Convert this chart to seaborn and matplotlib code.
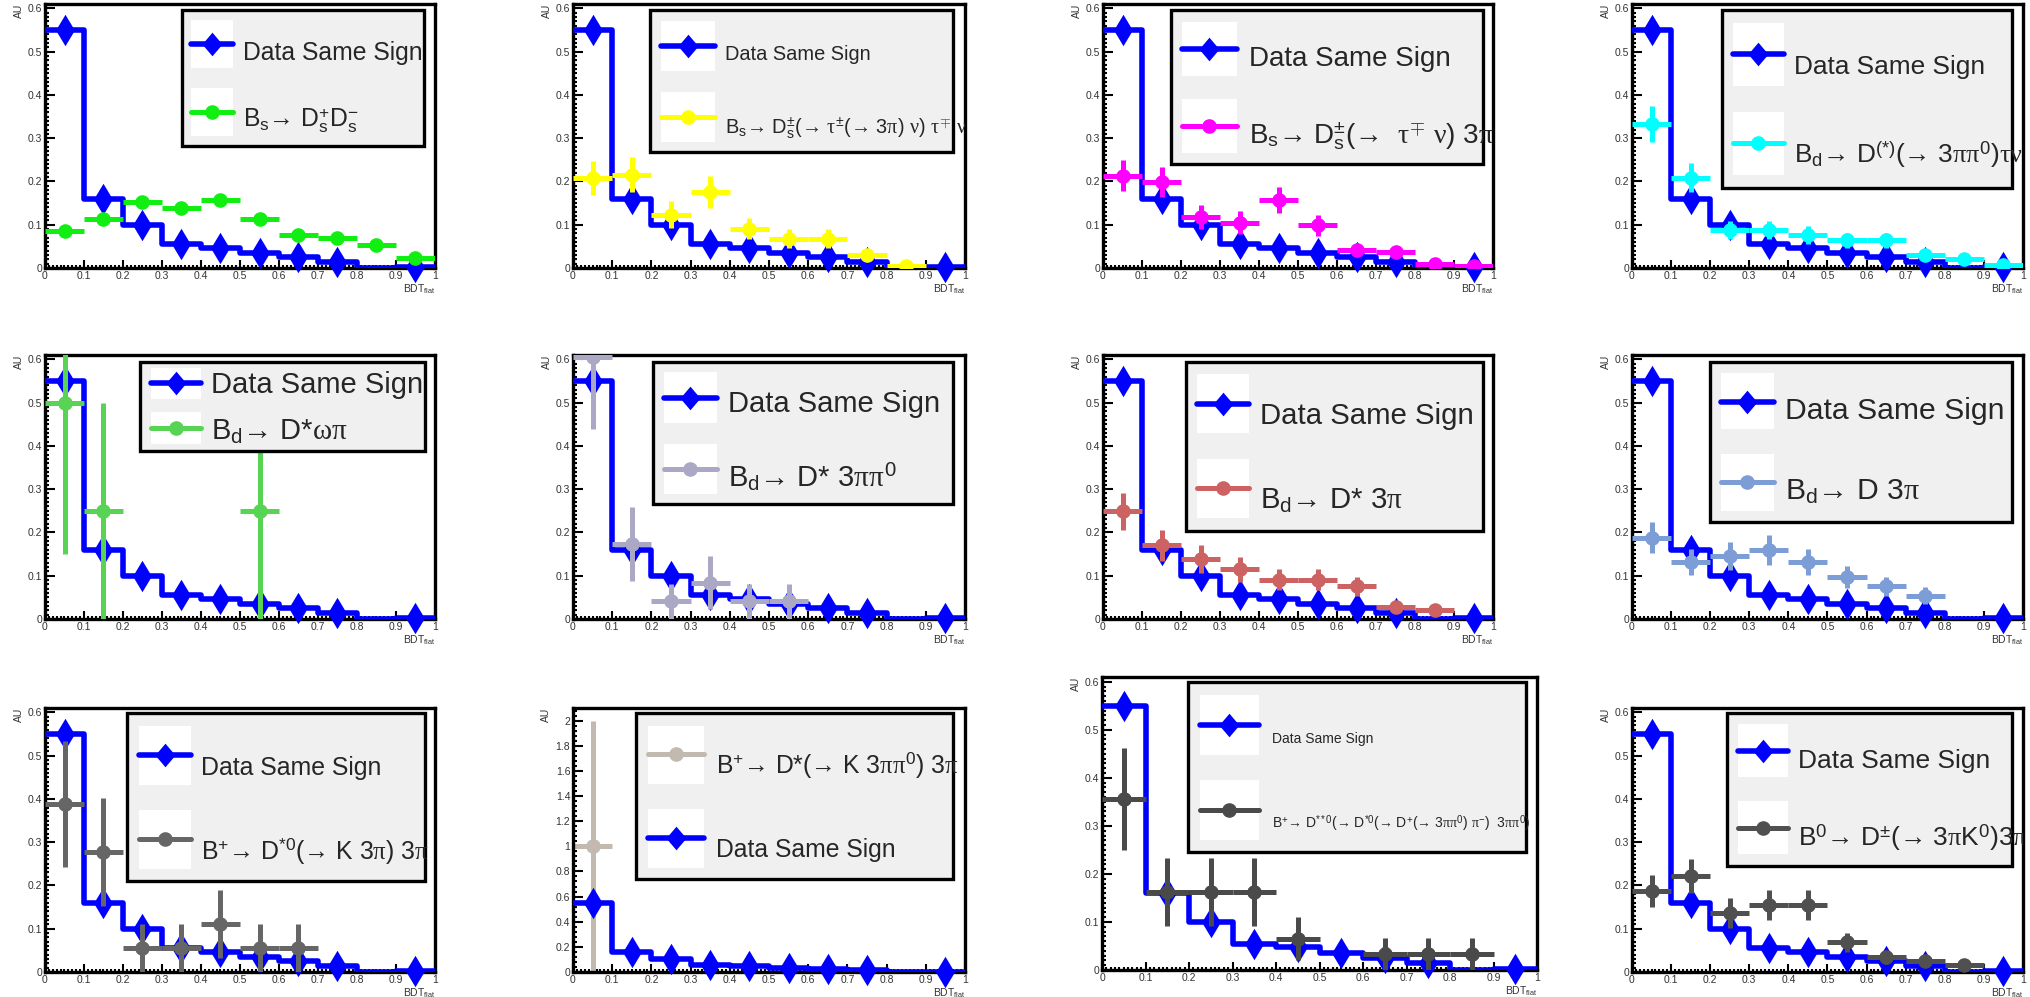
import numpy as np
import pandas as pd
import matplotlib
matplotlib.use("Agg")
import matplotlib.pyplot as plt
import seaborn as sns
from matplotlib.patches import Rectangle
from matplotlib.lines import Line2D
from matplotlib.ticker import MultipleLocator, FuncFormatter

W, H = 2031, 997

# ---- data -------------------------------------------------------------
bin_edges = [0.0, 0.1, 0.2, 0.3, 0.4, 0.5, 0.6, 0.7, 0.8, 0.9, 1.0]
bin_centres = np.array([0.05, 0.15, 0.25, 0.35, 0.45, 0.55, 0.65, 0.75, 0.85, 0.95])

data_same_sign = [0.55, 0.16, 0.10, 0.055, 0.047, 0.035, 0.025, 0.015, 0.0, 0.002]

bs_dsds = [0.085, 0.113, 0.153, 0.138, 0.157, 0.113, 0.077, 0.070, 0.054, 0.022]
bs_dsds_err = [0.004, 0.005, 0.005, 0.005, 0.005, 0.005, 0.004, 0.004, 0.003, 0.003]

bs_ds_tautau = [0.208, 0.216, 0.123, 0.176, 0.091, 0.068, 0.068, 0.029, 0.005, 0.0]
bs_ds_tautau_err = [0.039, 0.040, 0.031, 0.037, 0.025, 0.022, 0.022, 0.012, 0.005, 0.0]

bs_ds_tau_3pi = [0.213, 0.199, 0.118, 0.105, 0.157, 0.099, 0.042, 0.037, 0.010, 0.004]
bs_ds_tau_3pi_err = [0.036, 0.035, 0.028, 0.026, 0.030, 0.024, 0.012, 0.010, 0.006, 0.004]

bd_dx_3pipi0_taunu = [0.332, 0.209, 0.087, 0.087, 0.076, 0.064, 0.064, 0.031, 0.021, 0.008]
bd_dx_3pipi0_taunu_err = [0.042, 0.034, 0.021, 0.021, 0.020, 0.018, 0.018, 0.010, 0.008, 0.006]

bd_dst_omega_pi = [0.50, 0.25, 0, 0, 0, 0.25, 0, 0, 0, 0]
bd_dst_omega_pi_err = [0.35, 0.25, 0, 0, 0, 0.25, 0, 0, 0, 0]

bd_dst_3pipi0 = [0.605, 0.173, 0.041, 0.084, 0.041, 0.041, 0, 0, 0, 0]
bd_dst_3pipi0_err = [0.165, 0.086, 0.041, 0.061, 0.041, 0.041, 0, 0, 0, 0]

bd_dst_3pi = [0.249, 0.170, 0.138, 0.115, 0.091, 0.091, 0.076, 0.028, 0.020, 0]
bd_dst_3pi_err = [0.043, 0.035, 0.032, 0.029, 0.025, 0.025, 0.022, 0.010, 0.008, 0]

bd_d_3pi = [0.188, 0.132, 0.146, 0.159, 0.132, 0.097, 0.076, 0.054, 0, 0]
bd_d_3pi_err = [0.036, 0.030, 0.032, 0.034, 0.030, 0.025, 0.022, 0.019, 0, 0]

bp_dst0_k3pi = [0.388, 0.277, 0.055, 0.055, 0.111, 0.055, 0.055, 0, 0, 0]
bp_dst0_k3pi_err = [0.145, 0.124, 0.055, 0.055, 0.078, 0.055, 0.055, 0, 0, 0]

bp_dst_k3pipi0 = [1.0, 0, 0, 0, 0, 0, 0, 0, 0, 0]
bp_dst_k3pipi0_err = [1.0, 0, 0, 0, 0, 0, 0, 0, 0, 0]

bp_dstst0 = [0.356, 0.162, 0.162, 0.162, 0.065, 0, 0.033, 0.033, 0.033, 0]
bp_dstst0_err = [0.107, 0.071, 0.071, 0.071, 0.045, 0, 0.033, 0.033, 0.033, 0]

b0_dpm_3pik0 = [0.188, 0.222, 0.136, 0.154, 0.154, 0.069, 0.034, 0.026, 0.017, 0]
b0_dpm_3pik0_err = [0.037, 0.040, 0.034, 0.035, 0.035, 0.022, 0.015, 0.013, 0.010, 0]

labels = [
    r"B$_\mathrm{s}$→ D$_\mathrm{s}^{+}$D$_\mathrm{s}^{-}$",
    r"B$_\mathrm{s}$→ D$_\mathrm{s}^{\pm}$(→ $\tau^{\pm}$(→ 3$\pi$) $\nu$) $\tau^{\mp}$ $\nu$",
    r"B$_\mathrm{s}$→ D$_\mathrm{s}^{\pm}$(→  $\tau^{\mp}$ $\nu$) 3$\pi$",
    r"B$_\mathrm{d}$→ D$^{(*)}$(→ 3$\pi\pi^{0}$)$\tau\nu$",
    r"B$_\mathrm{d}$→ D*$\omega\pi$",
    r"B$_\mathrm{d}$→ D* 3$\pi\pi^{0}$",
    r"B$_\mathrm{d}$→ D* 3$\pi$",
    r"B$_\mathrm{d}$→ D 3$\pi$",
    r"B$^{+}$→ D$^{*0}$(→ K 3$\pi$) 3$\pi$",
    r"B$^{+}$→ D*(→ K 3$\pi\pi^{0}$) 3$\pi$",
    r"B$^{+}$→ D$^{**0}$(→ D$^{*0}$(→ D$^{+}$(→ 3$\pi\pi^{0}$) $\pi^{-}$)  3$\pi\pi^{0}$)",
    r"B$^{0}$→ D$^{\pm}$(→ 3$\pi$K$^{0}$)3$\pi$",
]

components = [
    (bs_dsds, bs_dsds_err, "#11ee11"),
    (bs_ds_tautau, bs_ds_tautau_err, "#ffff00"),
    (bs_ds_tau_3pi, bs_ds_tau_3pi_err, "#ff00ff"),
    (bd_dx_3pipi0_taunu, bd_dx_3pipi0_taunu_err, "#00ffff"),
    (bd_dst_omega_pi, bd_dst_omega_pi_err, "#59d354"),
    (bd_dst_3pipi0, bd_dst_3pipi0_err, "#aaa8c4"),
    (bd_dst_3pi, bd_dst_3pi_err, "#cc6262"),
    (bd_d_3pi, bd_d_3pi_err, "#7d9dd6"),
    (bp_dst0_k3pi, bp_dst0_k3pi_err, "#666666"),
    (bp_dst_k3pipi0, bp_dst_k3pipi0_err, "#c2b9af"),
    (bp_dstst0, bp_dstst0_err, "#4a4a4a"),
    (b0_dpm_3pik0, b0_dpm_3pik0_err, "#505050"),
]

# ---- layout (pixels of the 2031x997 canvas) ---------------------------
cols = [(45, 435), (573, 965), (1103, 1493), (1632, 2023)]
rows = [(4, 268), (355, 619), (708, 972)]
axes_px = [(c[0], r[0], c[1], r[1]) for r in rows for c in cols]
axes_px[10] = (1102, 677, 1537, 970)

# box, square x, square rows, handle y, text x, text y (cap centre), font size
legends = [
    dict(box=(182, 10, 424, 146), sq=(191, 233), sqy=[(20, 68), (88, 136)], hy=[44, 112], tx=243, ty=[51, 118], fs=17.8),
    dict(box=(650, 10, 953, 152), sq=(661, 715), sqy=[(21, 71), (92, 142)], hy=[46, 117], tx=725, ty=[53, 126], fs=14.4),
    dict(box=(1171, 10, 1483, 164), sq=(1182, 1237), sqy=[(22, 76), (99, 153)], hy=[49, 126], tx=1249, ty=[56, 134], fs=20),
    dict(box=(1722, 10, 2012, 188), sq=(1733, 1784), sqy=[(23, 86), (112, 175)], hy=[54, 143], tx=1794, ty=[65, 154], fs=18.9),
    dict(box=(140, 362, 425, 451), sq=(151, 201), sqy=[(368, 399), (412, 444)], hy=[383, 428], tx=211, ty=[383, 429], fs=21),
    dict(box=(653, 362, 953, 504), sq=(664, 717), sqy=[(372, 423), (444, 494)], hy=[398, 469], tx=728, ty=[402, 476], fs=21),
    dict(box=(1186, 362, 1483, 531), sq=(1197, 1249), sqy=[(374, 433), (459, 518)], hy=[404, 488], tx=1260, ty=[413, 498], fs=21.2),
    dict(box=(1710, 362, 2012, 522), sq=(1721, 1774), sqy=[(373, 429), (454, 511)], hy=[402, 482], tx=1785, ty=[408, 489], fs=21.7),
    dict(box=(127, 713, 425, 881), sq=(139, 191), sqy=[(726, 785), (810, 869)], hy=[755, 839], tx=201, ty=[766, 850], fs=17.9),
    dict(box=(636, 713, 953, 879), sq=(648, 704), sqy=[(726, 784), (809, 868)], hy=[754, 838], tx=716, ty=[764, 848], fs=17.8),
    dict(box=(1188, 682, 1526, 852), sq=(1200, 1259), sqy=[(695, 755), (780, 840)], hy=[725, 810], tx=1272, ty=[738, 823], fs=10),
    dict(box=(1727, 713, 2012, 866), sq=(1738, 1788), sqy=[(724, 777), (801, 854)], hy=[751, 828], tx=1798, ty=[759, 836], fs=19),
]

LEGEND_DIAMOND = [(0, 1), (0.85, 0), (0, -1), (-0.85, 0), (0, 1)]

sns.set_style("white")
plt.rcParams["font.family"] = ["Liberation Sans", "DejaVu Sans"]
plt.rcParams["mathtext.fontset"] = "custom"
plt.rcParams["mathtext.rm"] = "Liberation Sans"
plt.rcParams["mathtext.it"] = "Liberation Serif"
plt.rcParams["mathtext.bf"] = "Liberation Sans:bold"


def fx(x):
    return x / W


def fy(y):
    return 1 - y / H


def draw_legend(fig, ax, lay, entries):
    x0, y0, x1, y1 = lay["box"]
    ax.add_patch(Rectangle((fx(x0), fy(y1)), (x1 - x0) / W, (y1 - y0) / H,
                           transform=fig.transFigure, facecolor="#f0f0f0",
                           edgecolor="black", lw=2.4, zorder=10, clip_on=False))
    s0, s1 = lay["sq"]
    for (top, bot), hy, ty, (kind, colour, text) in zip(lay["sqy"], lay["hy"], lay["ty"], entries):
        ax.add_patch(Rectangle((fx(s0), fy(bot)), (s1 - s0) / W, (bot - top) / H,
                               transform=fig.transFigure, facecolor="white",
                               edgecolor="none", zorder=11, clip_on=False))
        if kind == "data":
            style = dict(color="blue", lw=4, marker=LEGEND_DIAMOND, ms=17,
                         markeredgewidth=0)
        else:
            style = dict(color=colour, lw=3.6, marker="o", ms=9.5)
        ax.add_artist(Line2D([fx(s0), fx((s0 + s1) / 2), fx(s1)], [fy(hy)] * 3,
                             transform=fig.transFigure, markevery=[1], zorder=12,
                             clip_on=False, **style))
        base = ty + 0.358 * lay["fs"] * 100 / 72
        ax.text(fx(lay["tx"]), fy(base), text, transform=fig.transFigure,
                fontsize=lay["fs"], ha="left", va="baseline", zorder=13, clip_on=True)


def draw_panel(fig, idx):
    L, T, R, B = axes_px[idx]
    ax = fig.add_axes([fx(L), fy(B), (R - L) / W, (B - T) / H])
    vals, errs, colour = components[idx]
    vals = np.array(vals, dtype=float)
    errs = np.array(errs, dtype=float)
    df = pd.DataFrame({"bdt": bin_centres, "au": data_same_sign})
    data_first = idx != 9
    z_data = 3 if data_first else 6
    z_comp = 5 if data_first else 2

    sns.histplot(data=df, x="bdt", weights="au", bins=bin_edges, element="step",
                 fill=False, color="blue", linewidth=4, ax=ax, zorder=z_data)
    shown = df[df["au"] > 0]
    sns.scatterplot(data=shown, x="bdt", y="au", marker="d", s=16 ** 2,
                    color="blue", linewidth=0, ax=ax, zorder=z_data + 0.5, clip_on=False)

    m = vals > 0
    ax.errorbar(bin_centres[m], vals[m], xerr=0.05, yerr=errs[m], fmt="o",
                color=colour, ms=9.5, elinewidth=3.6, capsize=0, zorder=z_comp)

    ymax = 2.1 if idx == 9 else 0.61
    ax.set_xlim(0, 1)
    ax.set_ylim(0, ymax)
    ax.xaxis.set_major_locator(MultipleLocator(0.1))
    ax.xaxis.set_minor_locator(MultipleLocator(0.01))
    if idx == 9:
        ax.yaxis.set_major_locator(MultipleLocator(0.2))
        ax.yaxis.set_minor_locator(MultipleLocator(0.04))
    else:
        ax.yaxis.set_major_locator(MultipleLocator(0.1))
        ax.yaxis.set_minor_locator(MultipleLocator(0.01))
    fmt = FuncFormatter(lambda v, p: f"{v:.6g}")
    ax.xaxis.set_major_formatter(fmt)
    ax.yaxis.set_major_formatter(fmt)
    ax.tick_params(which="both", direction="in", top=False, right=False,
                   bottom=True, left=True, color="black")
    ax.tick_params(axis="y", which="major", length=7.5, width=1.5)
    ax.tick_params(axis="y", which="minor", length=3.2, width=1.5)
    ax.tick_params(axis="x", which="major", length=5.8, width=1.5)
    ax.tick_params(axis="x", which="minor", length=2.2, width=1.5)
    ax.tick_params(which="major", labelsize=7.5, labelcolor="#333333", pad=2)
    for sp in ax.spines.values():
        sp.set_linewidth(2.4)
        sp.set_color("black")
    ax.set_ylabel("AU", fontsize=7.5, loc="top", labelpad=3, color="#333333")
    ax.set_xlabel(r"BDT$_\mathrm{flat}$", fontsize=7.5, loc="right", labelpad=1,
                  color="#333333")

    comp_entry = ("comp", colour, labels[idx])
    data_entry = ("data", "blue", "Data Same Sign")
    entries = [data_entry, comp_entry] if data_first else [comp_entry, data_entry]
    draw_legend(fig, ax, legends[idx], entries)


def main():
    fig = plt.figure(figsize=(W / 100, H / 100), dpi=100)
    for i in range(12):
        draw_panel(fig, i)
    fig.savefig("out.png", dpi=100, facecolor="white")


if __name__ == "__main__":
    main()
